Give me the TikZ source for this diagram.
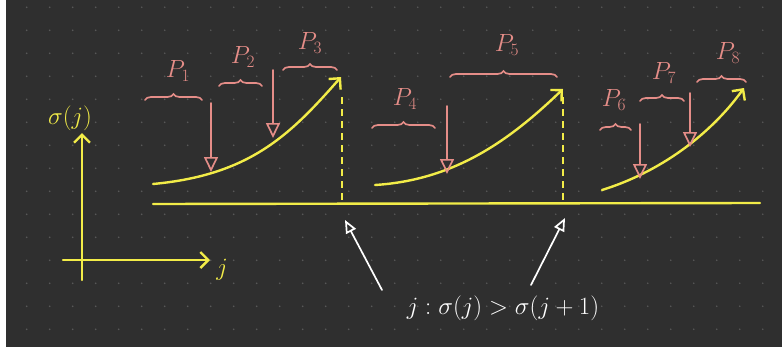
\documentclass[tikz,border=0pt]{standalone}
\usetikzlibrary{arrows.meta,decorations.pathreplacing}

\definecolor{board}{RGB}{47,47,47}
\definecolor{griddot}{RGB}{88,88,88}
\definecolor{chalkyellow}{RGB}{242,236,72}
\definecolor{chalkpink}{RGB}{229,141,136}

\tikzset{
  chalk/.style={draw=chalkyellow, line width=2.4pt, line cap=round},
  rise/.style={chalk, -{Straight Barb[length=8pt, width=16pt]}},
  cut/.style={chalk, dash pattern=on 7pt off 5pt, line cap=butt},
  pen/.style={draw=chalkpink, line width=1.7pt, line cap=round},
  drop/.style={pen, -{Triangle[open, length=15pt, width=14pt]}},
  part/.style={pen, decorate, decoration={brace, amplitude=6pt}},
  plabel/.style={text=chalkpink, font=\fontsize{24}{26}\selectfont},
  axislabel/.style={text=chalkyellow, font=\fontsize{27}{29}\selectfont},
  note/.style={draw=white, line width=1.7pt, line cap=round, -{Triangle[open, length=13pt, width=11pt]}},
}

\begin{document}
\begin{tikzpicture}[x=1pt, y=-1pt]
    \useasboundingbox (0,0) rectangle (782,351);
    \fill[white] (0,0) rectangle (782,351);
    \fill[board] (6,0) rectangle (782,347);
    \foreach \i in {0,...,32}
        \foreach \k in {0,...,14}
            \fill[griddot] (26.7+23*\i, 7.3+23*\k) circle (0.9pt);

    % axes
    \coordinate (ybot) at (82,280);
    \coordinate (ytop) at (82,133);
    \coordinate (xleft) at (63,260);
    \coordinate (xright) at (210,260);
    \draw[rise] (ybot) -- (ytop);
    \draw[rise] (xleft) -- (xright);
    \node[axislabel] (sigmaj) at (70,118) {$\sigma(j)$};
    \node[axislabel] (jaxis) at (222,270) {$j$};

    % base line and descents
    \coordinate (basel) at (153,204);
    \coordinate (baser) at (760,203);
    \draw[chalk] (basel) -- (baser);
    \coordinate (cutatop) at (342,97);
    \coordinate (cutabot) at (342,204);
    \coordinate (cutbtop) at (563,97);
    \coordinate (cutbbot) at (563,204);
    \draw[cut] (cutatop) -- (cutabot);
    \draw[cut] (cutbtop) -- (cutbbot);

    % increasing runs
    \coordinate (runa) at (153,184);
    \coordinate (runaend) at (341,77);
    \coordinate (runb) at (375,185);
    \coordinate (runbend) at (563,89);
    \coordinate (runc) at (602,190);
    \coordinate (runcend) at (744,88);
    \draw[rise] (runa) .. controls (250,175) and (290,135) .. (runaend);
    \draw[rise] (runb) .. controls (455,180) and (510,140) .. (runbend);
    \draw[rise] (runc) .. controls (660,172) and (710,135) .. (runcend);

    % split points
    \coordinate (dropa) at (211,103);
    \coordinate (dropaend) at (211,172);
    \coordinate (dropb) at (273,70);
    \coordinate (dropbend) at (273,138);
    \coordinate (dropc) at (447,106);
    \coordinate (dropcend) at (447,174);
    \coordinate (dropd) at (640,124);
    \coordinate (dropdend) at (640,179);
    \coordinate (drope) at (690,93);
    \coordinate (dropeend) at (690,147);
    \draw[drop] (dropa) -- (dropaend);
    \draw[drop] (dropb) -- (dropbend);
    \draw[drop] (dropc) -- (dropcend);
    \draw[drop] (dropd) -- (dropdend);
    \draw[drop] (drope) -- (dropeend);

    % pieces
    \draw[part] (145,100) -- (202,100);
    \draw[part] (219,86) -- (262,86);
    \draw[part] (283,70) -- (337,70);
    \draw[part] (372,128) -- (435,128);
    \draw[part] (450,77) -- (557,77);
    \draw[part] (600,130) -- (631,130);
    \draw[part] (640,101) -- (684,101);
    \draw[part] (697,82) -- (746,82);
    \node[plabel] (pa) at (178,71) {$P_1$};
    \node[plabel] (pb) at (243,57) {$P_2$};
    \node[plabel] (pc) at (310,43) {$P_3$};
    \node[plabel] (pd) at (405,99) {$P_4$};
    \node[plabel] (pe) at (507,45) {$P_5$};
    \node[plabel] (pf) at (614,100) {$P_6$};
    \node[plabel] (pg) at (664,73) {$P_7$};
    \node[plabel] (ph) at (728,53) {$P_8$};

    % note
    \node[text=white, font=\fontsize{28}{30}\selectfont] (descent) at (503,308) {$j : \sigma(j) > \sigma(j+1)$};
    \coordinate (notea) at (382,290);
    \coordinate (noteaend) at (345,220);
    \coordinate (noteb) at (531,285);
    \coordinate (notebend) at (565,218);
    \draw[note] (notea) -- (noteaend);
    \draw[note] (noteb) -- (notebend);
\end{tikzpicture}
\end{document}
